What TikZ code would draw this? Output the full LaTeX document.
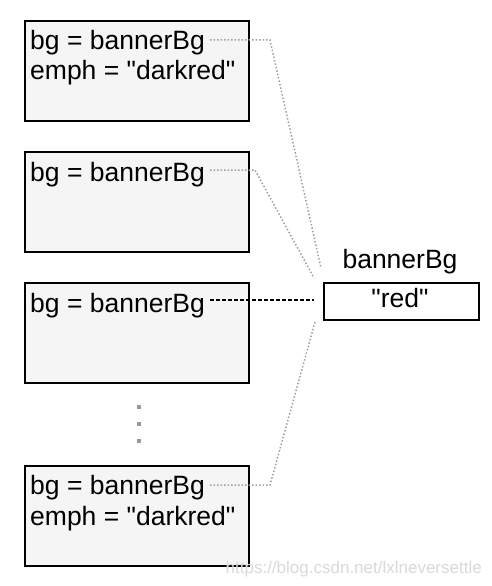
\documentclass[tikz,border=0pt]{standalone}
\usepackage{fontspec}
\newfontfamily\arial{Liberation Sans}
\begin{document}
\begin{tikzpicture}[x=1pt,y=-1pt,
  objbox/.style={draw=black, line width=2pt, fill=gray!8, minimum width=224pt, minimum height=100pt, anchor=north west, inner sep=0pt},
  valbox/.style={draw=black, line width=2pt, fill=white, minimum width=155pt, minimum height=37pt, anchor=north west, inner sep=0pt},
  txt/.style={inner sep=0pt, anchor=base west, font=\arial\fontsize{26.5}{30}\selectfont},
  link/.style={gray!75, line width=1.5pt, dotted},
  mainlink/.style={black, line width=1.5pt, dash pattern=on 4pt off 2pt},
  ell/.style={fill=gray!80, inner sep=0pt, minimum size=4.5pt}]
\useasboundingbox (0,0) rectangle (492,586);
% boxes
\node[objbox] (b1) at (24,20) {};
\node[objbox] (b2) at (24,151) {};
\node[objbox] (b3) at (24,282) {};
\node[objbox] (b4) at (24,465) {};
\node[valbox] (red) at (323,282) {};
% texts
\node[txt] (t1) at (30,50) {bg = bannerBg};
\node[txt] (e1) at (30,80) {emph = "darkred"};
\node[txt] (t2) at (30,181) {bg = bannerBg};
\node[txt] (t3) at (30,312) {bg = bannerBg};
\node[txt] (t4) at (30,494) {bg = bannerBg};
\node[txt] (e4) at (30,525) {emph = "darkred"};
\node[txt, anchor=base] (rv) at (400,307) {"red"};
\node[txt, anchor=base] (lbl) at (400,268) {bannerBg};
% ellipsis dots
\node[ell] (d1) at (139,407) {};
\node[ell] (d2) at (139,424) {};
\node[ell] (d3) at (139,441) {};
% connectors
\coordinate (k1) at (270,40);
\coordinate (r1) at (321,268);
\coordinate (k2) at (255,170);
\coordinate (r2) at (314,278);
\coordinate (r3) at (314,300);
\coordinate (k4) at (270,485);
\coordinate (r4) at (315,322);
\draw[link] ([xshift=5pt]t1.east |- k1) -- (k1) -- (r1);
\draw[link] ([xshift=5pt]t2.east |- k2) -- (k2) -- (r2);
\draw[mainlink] ([xshift=5pt]t3.east |- r3) -- (r3);
\draw[link] ([xshift=5pt]t4.east |- k4) -- (k4) -- (r4);
% watermark
\node[inner sep=0pt, anchor=base east, text=gray!30, font=\arial\fontsize{17}{20}\selectfont] (wm) at (482,573) {https://blog.csdn.net/lxlneversettle};
\end{tikzpicture}
\end{document}
